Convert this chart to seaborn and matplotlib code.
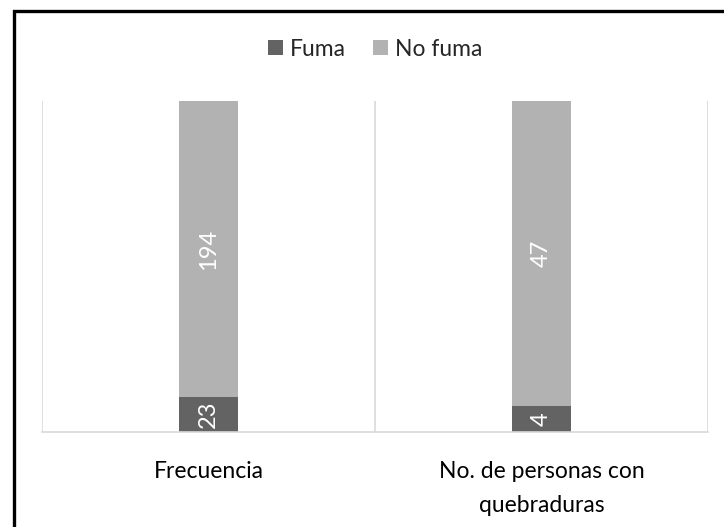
import matplotlib
matplotlib.use("Agg")
import matplotlib.pyplot as plt
from matplotlib.patches import Rectangle, Patch
import seaborn as sns
import pandas as pd

categories = ["Frecuencia", "No. de personas con\nquebraduras"]
fuma = [23, 4]
no_fuma = [194, 47]

dark = "#636363"
light = "#b2b2b2"
grid = "#d9d9d9"

sns.set_theme(style="white")
plt.rcParams["font.family"] = ["Lato", "DejaVu Sans"]

totals = [a + b for a, b in zip(fuma, no_fuma)]
df = pd.DataFrame({
    "cat": categories,
    "fuma_pct": [a / t * 100 for a, t in zip(fuma, totals)],
    "total_pct": [100.0 for _ in totals],
})

fig = plt.figure(figsize=(7.24, 5.27), dpi=100)
ax = fig.add_axes([42 / 724, 1 - 432 / 527, 666 / 724, 331 / 527])

# 100% stacked columns: full column in light grey, smoker share drawn over it
sns.barplot(data=df, x="cat", y="total_pct", color=light, width=0.18,
            saturation=1, linewidth=0, ax=ax)
sns.barplot(data=df, x="cat", y="fuma_pct", color=dark, width=0.18,
            saturation=1, linewidth=0, ax=ax)

ax.set_xlim(-0.5, 1.5)
ax.set_ylim(0, 100)
ax.set_xlabel("")
ax.set_ylabel("")
ax.set_yticks([])
for s in ["top", "right", "left"]:
    ax.spines[s].set_visible(False)
ax.spines["bottom"].set_color(grid)
ax.spines["bottom"].set_linewidth(1.2)
for xv in [-0.5, 0.5, 1.5]:
    ax.axvline(xv, color=grid, lw=1.2, zorder=0)
ax.tick_params(axis="x", length=0, pad=21, labelsize=16.5, colors="#000000")
ax.set_xticks(range(len(categories)))
ax.set_xticklabels(categories, linespacing=1.75)

# value labels, rotated and centred in each segment
for i, (f, nf) in enumerate(zip(fuma, no_fuma)):
    fp = df["fuma_pct"][i]
    ax.text(i, fp / 2, str(f), rotation=90, ha="center", va="center",
            color="white", fontsize=17)
    ax.text(i, fp + (100 - fp) / 2, str(nf), rotation=90, ha="center",
            va="center", color="white", fontsize=17)

handles = [Patch(facecolor=dark, edgecolor="none"),
           Patch(facecolor=light, edgecolor="none")]
ax.legend(handles, ["Fuma", "No fuma"], loc="center", bbox_to_anchor=(0.5, 1.157),
          ncol=2, frameon=False, fontsize=16.5, handlelength=0.65,
          handleheight=0.65, handletextpad=0.3, columnspacing=1.2)

# black frame around the chart area
fig.patches.append(Rectangle((13.5 / 724, -0.2), 1.2, 1.2 - 10.5 / 527,
                             transform=fig.transFigure, fill=False,
                             edgecolor="black", linewidth=2.4))

fig.savefig("out.png", dpi=100)
